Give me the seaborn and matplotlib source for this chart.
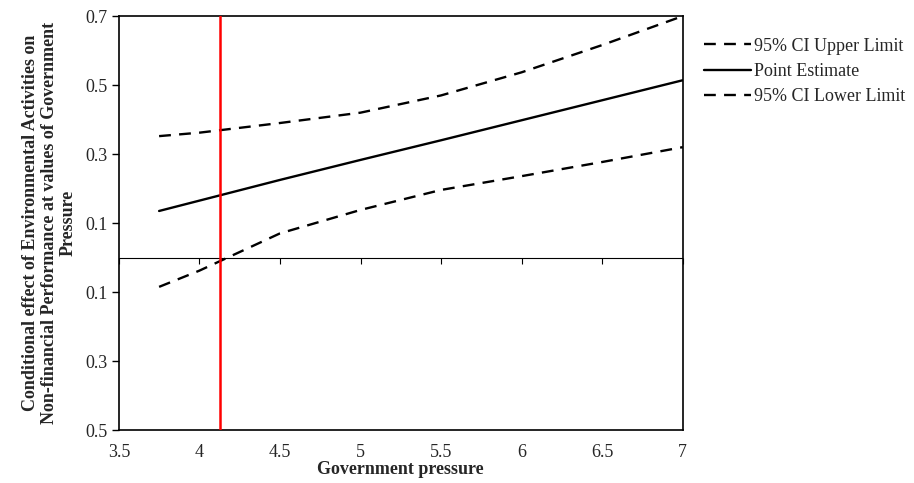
import matplotlib
matplotlib.use("Agg")
import matplotlib.pyplot as plt
import seaborn as sns
import pandas as pd

gov_pressure = [3.75, 4.0, 4.5, 5.0, 5.5, 6.0, 6.5, 7.0]
point_est = [0.135, 0.165, 0.225, 0.283, 0.340, 0.398, 0.456, 0.514]
ci_upper = [0.352, 0.362, 0.390, 0.420, 0.470, 0.537, 0.616, 0.700]
ci_lower = [-0.085, -0.038, 0.070, 0.138, 0.196, 0.236, 0.277, 0.320]
jn_point = 4.13

y_ticks = [0.7, 0.5, 0.3, 0.1, -0.1, -0.3, -0.5]
y_ticklabels = ["0.7", "0.5", "0.3", "0.1", "0.1", "0.3", "0.5"]
x_ticks = [3.5, 4, 4.5, 5, 5.5, 6, 6.5, 7]
x_ticklabels = ["3.5", "4", "4.5", "5", "5.5", "6", "6.5", "7"]

sns.set_style("white")
plt.rcParams["font.family"] = ["Liberation Serif", "DejaVu Serif"]

df = pd.DataFrame({"x": gov_pressure, "est": point_est, "up": ci_upper, "lo": ci_lower})

fig = plt.figure(figsize=(9.14, 4.83), dpi=100)
ax = fig.add_axes([0.130, 0.1097, 0.617, 0.857])

sns.lineplot(data=df, x="x", y="up", ax=ax, color="black", lw=1.7,
             label="95% CI Upper Limit")
sns.lineplot(data=df, x="x", y="est", ax=ax, color="black", lw=1.7,
             label="Point Estimate")
sns.lineplot(data=df, x="x", y="lo", ax=ax, color="black", lw=1.7,
             label="95% CI Lower Limit")
lines = ax.get_lines()
lines[0].set_dashes((5, 3.5))
lines[2].set_dashes((5, 3.5))

ax.axhline(0, color="black", lw=0.8, zorder=1)
ax.axvline(jn_point, color="#ff0000", lw=1.8, zorder=3)

ax.set_xlim(3.5, 7)
ax.set_ylim(-0.5, 0.7)
ax.set_yticks(y_ticks)
ax.set_yticklabels(y_ticklabels)
ax.set_xticks(x_ticks)
ax.set_xticklabels(x_ticklabels)
ax.tick_params(axis="y", direction="out", length=5, width=1, labelsize=13, left=True, color="black", pad=3)
ax.tick_params(axis="x", length=0, labelsize=13, pad=10)

for s in ax.spines.values():
    s.set_color("black")
    s.set_linewidth(1.2)

sec = ax.secondary_xaxis(0.5 / 1.2)
sec.set_xticks(x_ticks)
sec.tick_params(axis="x", direction="out", length=4, width=0.8, labelbottom=False, labeltop=False, color="black")
sec.spines["bottom"].set_visible(False)
sec.spines["top"].set_visible(False)

ax.set_xlabel("Government pressure", fontsize=13, fontweight="bold", labelpad=0)
ax.set_ylabel("Conditional effect of Environmental Activities on\nNon-financial Performance at values of Government\nPressure",
              fontsize=13, fontweight="bold", linespacing=1.15)
ax.yaxis.set_label_coords(-0.074, 0.5)

leg = ax.legend(loc="upper left", bbox_to_anchor=(1.025, 0.965), frameon=False,
                fontsize=13, handlelength=2.6, labelspacing=0.45, handletextpad=0.15,
                borderaxespad=0)
for h in leg.get_lines():
    h.set_linewidth(1.7)

fig.savefig("out.png", dpi=100)
